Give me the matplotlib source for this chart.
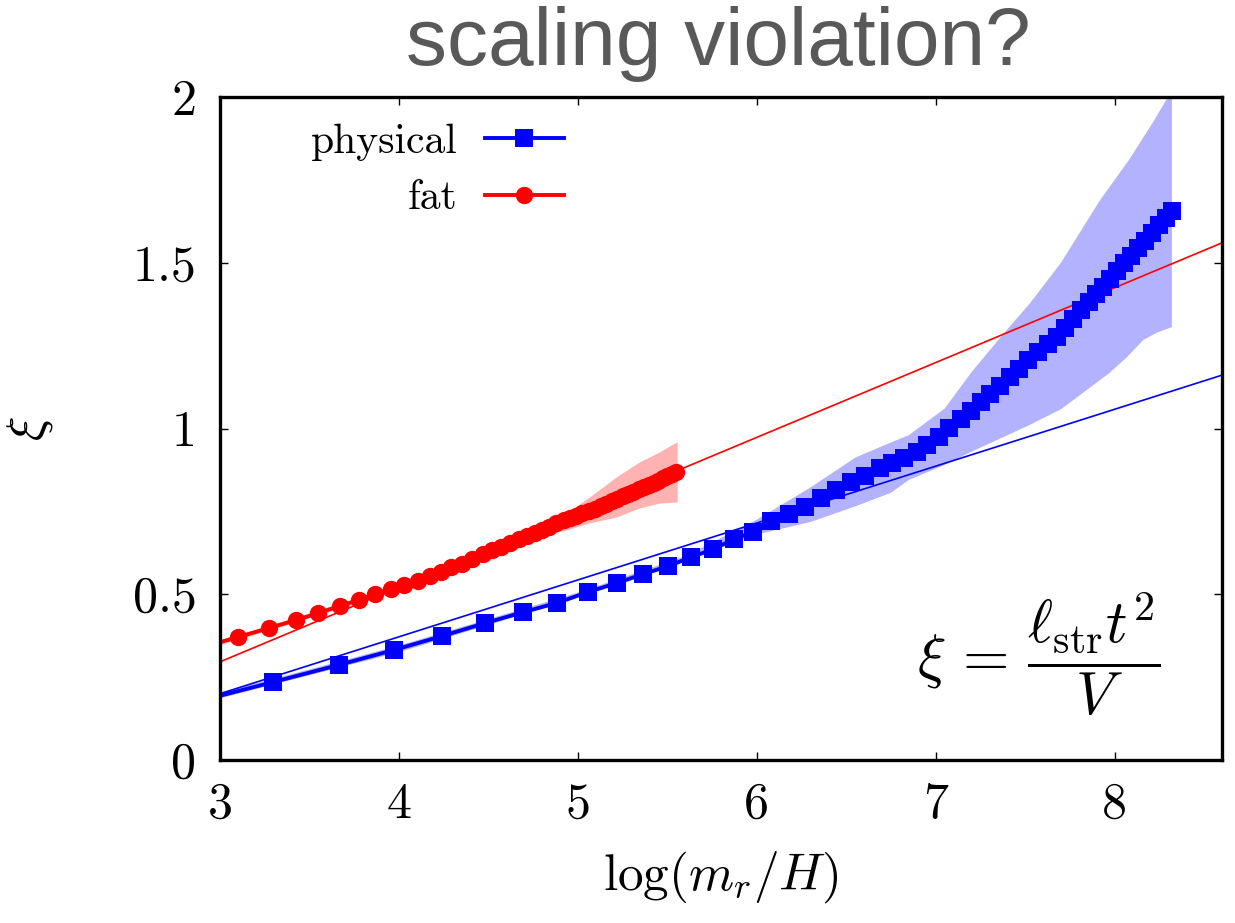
import numpy as np
import matplotlib
matplotlib.use('Agg')
import matplotlib.pyplot as plt
from matplotlib.lines import Line2D

plt.rcParams['font.family'] = 'serif'
plt.rcParams['font.serif'] = ['cmr10', 'DejaVu Serif']
plt.rcParams['mathtext.fontset'] = 'cm'
plt.rcParams['axes.unicode_minus'] = False
plt.rcParams['axes.formatter.use_mathtext'] = True

# physical strings (blue squares), first point sits left of the frame
phys_x = [2.85, 3.296, 3.666, 3.973, 4.242, 4.482, 4.695, 4.885, 5.058, 5.220,
          5.366, 5.506, 5.634, 5.757, 5.875, 5.981, 6.082, 6.182, 6.272, 6.361,
          6.445, 6.529, 6.607, 6.686, 6.753, 6.820, 6.893, 6.954, 7.021, 7.077,
          7.139, 7.195, 7.251, 7.306, 7.357, 7.413, 7.463, 7.513, 7.569, 7.625,
          7.676, 7.720, 7.765, 7.810, 7.855, 7.894, 7.933, 7.972, 8.011, 8.050,
          8.089, 8.129, 8.168, 8.207, 8.246, 8.285, 8.319]
phys_y = [0.173, 0.235, 0.287, 0.332, 0.374, 0.413, 0.446, 0.474, 0.507, 0.534,
          0.561, 0.585, 0.612, 0.636, 0.667, 0.688, 0.721, 0.742, 0.763, 0.790,
          0.814, 0.839, 0.857, 0.881, 0.896, 0.911, 0.929, 0.950, 0.974, 1.002,
          1.029, 1.053, 1.080, 1.104, 1.128, 1.155, 1.179, 1.207, 1.231, 1.255,
          1.276, 1.303, 1.329, 1.356, 1.382, 1.405, 1.428, 1.451, 1.475, 1.498,
          1.521, 1.544, 1.567, 1.590, 1.613, 1.636, 1.656]

# error band of physical
phys_hi_x = [2.85, 3.3, 4.0, 5.0, 5.6, 6.0, 6.3, 6.55, 6.75, 6.85, 7.05, 7.2,
             7.37, 7.53, 7.7, 7.92, 8.08, 8.21, 8.32]
phys_hi_y = [0.182, 0.245, 0.345, 0.505, 0.615, 0.725, 0.822, 0.912, 0.958, 0.98,
             1.06, 1.17, 1.28, 1.38, 1.50, 1.69, 1.81, 1.92, 2.02]
phys_lo_x = [2.85, 3.3, 4.0, 5.0, 5.6, 6.0, 6.3, 6.55, 6.75, 6.85, 7.05, 7.2,
             7.37, 7.53, 7.7, 7.97, 8.07, 8.16, 8.24, 8.32]
phys_lo_y = [0.165, 0.228, 0.325, 0.49, 0.60, 0.68, 0.718, 0.765, 0.806, 0.845,
             0.89, 0.93, 0.972, 1.012, 1.058, 1.167, 1.216, 1.267, 1.29, 1.306]

# fat strings (red circles)
fat_x = [2.9, 3.101, 3.274, 3.425, 3.548, 3.671, 3.777, 3.867, 3.956, 4.029,
         4.107, 4.174, 4.236, 4.292, 4.353, 4.41, 4.47, 4.52, 4.57, 4.62,
         4.67, 4.715, 4.76, 4.80, 4.84, 4.88, 4.92, 4.955, 4.99, 5.025,
         5.06, 5.095, 5.13, 5.16, 5.19, 5.22, 5.25, 5.28, 5.31, 5.34,
         5.37, 5.40, 5.425, 5.45, 5.475, 5.50, 5.525, 5.55]
fat_y = [0.34, 0.371, 0.398, 0.422, 0.443, 0.465, 0.483, 0.501, 0.516, 0.528,
         0.540, 0.555, 0.567, 0.582, 0.591, 0.605, 0.620, 0.632, 0.644, 0.655,
         0.666, 0.676, 0.685, 0.694, 0.704, 0.714, 0.723, 0.730, 0.737, 0.744,
         0.751, 0.758, 0.766, 0.773, 0.780, 0.787, 0.795, 0.802, 0.809, 0.816,
         0.823, 0.831, 0.837, 0.843, 0.850, 0.856, 0.862, 0.868]

fat_band_x = [2.9, 3.1, 4.0, 4.5, 4.75, 4.935, 5.064, 5.215, 5.343, 5.455, 5.54, 5.555]
fat_band_hi = [0.347, 0.378, 0.528, 0.632, 0.692, 0.745, 0.793, 0.854, 0.899, 0.929, 0.956, 0.96]
fat_band_lo = [0.333, 0.364, 0.512, 0.614, 0.672, 0.694, 0.715, 0.733, 0.76, 0.775, 0.778, 0.778]

# straight line fits, y = a + b*x
phys_fit = (-0.3148, 0.1716)
fat_fit = (-0.381, 0.2257)

xticks = [3, 4, 5, 6, 7, 8]
yticks = [0, 0.5, 1, 1.5, 2]
ytick_labels = ['0', '0.5', '1', '1.5', '2']

blue = '#0000ff'
red = '#ff0000'

fig = plt.figure(figsize=(12.35, 9.23), dpi=100)
ax = fig.add_axes([220/1235, 1-760/923, 1002/1235, 663/923])

ax.fill(phys_hi_x + phys_lo_x[::-1], phys_hi_y + phys_lo_y[::-1],
        color=blue, alpha=0.3, lw=0)
ax.fill_between(fat_band_x, fat_band_lo, fat_band_hi, color=red, alpha=0.3, lw=0)

xf = np.array([3.0, 8.6])
ax.plot(xf, phys_fit[0] + phys_fit[1]*xf, color=blue, lw=1.2)
ax.plot(xf, fat_fit[0] + fat_fit[1]*xf, color=red, lw=1.2)

ax.plot(phys_x, phys_y, color=blue, lw=2.8, marker='s', ms=13, mew=0)
ax.plot(fat_x, fat_y, color=red, lw=2.8, marker='o', ms=12.5, mew=0)

ax.set_xlim(3, 8.6)
ax.set_ylim(0, 2)
ax.set_xticks(xticks)
ax.set_xticklabels([str(v) for v in xticks])
ax.set_yticks(yticks)
ax.set_yticklabels(ytick_labels)
ax.tick_params(direction='in', top=True, right=True, length=6, width=1,
               labelsize=36, pad=17)
ax.tick_params(axis='x', pad=16)
for s in ax.spines.values():
    s.set_linewidth(2.4)

ax.set_xlabel(r'$\log(m_r/H)$', fontsize=37)
ax.xaxis.set_label_coords(0.5, -0.135)
ax.set_ylabel(r'$\xi$', fontsize=37)
ax.yaxis.set_label_coords(-0.165, 0.5)

ax.text(0.938, 0.16, r'$\xi\,=\,\dfrac{\ell_{\rm str}t^2}{V}$', fontsize=43,
        ha='right', va='center', transform=ax.transAxes)

handles = [Line2D([], [], color=blue, lw=2.8, marker='s', ms=13, mew=0),
           Line2D([], [], color=red, lw=2.8, marker='o', ms=12.5, mew=0)]
ax.legend(handles, ['physical', 'fat'], loc='upper right',
          bbox_to_anchor=(0.343, 0.96), frameon=False, markerfirst=False,
          fontsize=30, handlelength=1.9, handletextpad=0.65, borderpad=0,
          borderaxespad=0, labelspacing=0.45)

fig.text(718/1235, 1-44/923, 'scaling violation?', fontsize=59, color='#595959',
         family='Liberation Sans', ha='center', va='center')

fig.savefig('out.png', dpi=100)
